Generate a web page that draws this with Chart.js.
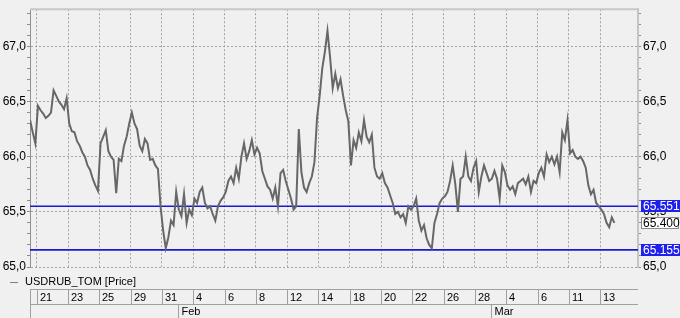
<!DOCTYPE html>
<html>
<head>
<meta charset="utf-8">
<title>USDRUB_TOM</title>
<script src="https://cdn.jsdelivr.net/npm/chart.js@4.4.1/dist/chart.umd.min.js"></script>
<style>
    html, body { margin: 0; padding: 0; background: #f0f0f0; }
    #wrap { width: 680px; height: 318px; }
</style>
</head>
<body>
<div id="wrap"><canvas id="grafico" width="680" height="318"></canvas></div>
<script>
// Eixo X em dias de pregao (0 = 21 jan)
const X_MIN = -0.428;
const X_MAX = 38.42;
const dayTickPos = [0, 2, 4, 6, 8, 10, 12, 14, 16, 18, 20, 22, 24, 26, 28, 30, 32, 34, 36];
const dayLabels = ['21', '23', '25', '29', '31', '4', '6', '8', '12', '14', '18', '20', '22', '26', '28', '4', '6', '11', '13'];
const monthTickPos = [9, 29];
const monthLabels = ['Feb', 'Mar'];

// Eixo Y
const Y_MIN = 65.0;
const Y_MAX = 67.336;
const yMajor = [65.0, 65.5, 66.0, 66.5, 67.0];
const yLabels = ['65,0', '65,5', '66,0', '66,5', '67,0'];

// Niveis horizontais
const levelHigh = 65.551;
const levelLow = 65.155;

// Serie de precos, 6 leituras por dia
const seriesName = 'USDRUB_TOM [Price]';
const seriesStart = -0.42;
const seriesStep = 1 / 6;
const prices = [
    66.33, 66.22, 66.12,                          // 18 jan
    66.46, 66.42, 66.39, 66.35, 66.37, 66.40,     // 21
    66.60, 66.55, 66.50, 66.47, 66.43, 66.53,     // 22
    66.30, 66.23, 66.22, 66.14, 66.10, 66.04,     // 23
    66.00, 65.92, 65.88, 65.80, 65.74, 65.69,     // 24
    66.12, 66.18, 66.24, 66.05, 66.00, 65.97,     // 25
    65.67, 65.98, 65.96, 66.10, 66.18, 66.30,     // 28
    66.40, 66.30, 66.25, 66.10, 66.05, 66.16,     // 29
    66.12, 65.97, 65.98, 65.92, 65.89, 65.55,     // 30
    65.33, 65.17, 65.27, 65.42, 65.38, 65.68,     // 31
    65.52, 65.46, 65.66, 65.40, 65.52, 65.47,     // 1 fev
    65.62, 65.58, 65.68, 65.72, 65.58, 65.53,     // 4
    65.55, 65.48, 65.42, 65.55, 65.60, 65.63,     // 5
    65.68, 65.78, 65.82, 65.76, 65.90, 65.80,     // 6
    66.00, 66.12, 65.98, 66.05, 66.15, 66.02,     // 7
    66.08, 66.03, 65.87, 65.80, 65.73, 65.70,     // 8
    65.62, 65.72, 65.55, 65.85, 65.88, 65.78,     // 11
    65.70, 65.62, 65.52, 65.55, 66.25, 65.86,     // 12
    65.72, 65.68, 65.76, 65.82, 65.95, 66.35,     // 13
    66.55, 66.80, 66.95, 67.14, 66.90, 66.62,     // 14
    66.75, 66.62, 66.70, 66.55, 66.42, 66.32,     // 15
    65.92, 66.15, 66.08, 66.22, 66.14, 66.33,     // 18
    66.18, 66.13, 66.20, 65.90, 65.82, 65.80,     // 19
    65.85, 65.76, 65.72, 65.65, 65.58, 65.48,     // 20
    65.50, 65.45, 65.48, 65.40, 65.55, 65.52,     // 21
    65.55, 65.62, 65.42, 65.33, 65.38, 65.26,     // 22
    65.20, 65.17, 65.40, 65.48, 65.58, 65.62,     // 25
    65.64, 65.68, 65.78, 65.92, 65.75, 65.50,     // 26
    65.80, 65.82, 66.00, 65.82, 65.78, 65.90,     // 27
    65.96, 65.68, 65.82, 65.92, 65.85, 65.78,     // 28
    65.80, 65.87, 65.80, 65.62, 65.92, 65.86,     // 1 mar
    65.74, 65.70, 65.73, 65.66, 65.76, 65.78,     // 4
    65.80, 65.75, 65.82, 65.68, 65.78, 65.76,     // 5
    65.85, 65.90, 65.82, 66.02, 65.95, 66.00,     // 6
    65.93, 66.00, 65.86, 66.22, 66.15, 66.33,     // 7
    66.03, 66.06, 66.00, 65.98, 66.00, 65.96,     // 11
    65.90, 65.74, 65.66, 65.70, 65.58, 65.55,     // 12
    65.52, 65.48, 65.40, 65.36, 65.45, 65.40      // 13
];

const FONT = '"Liberation Sans", Arial, sans-serif';
const BLUE_LINE = '#1a1ad2';
const BLUE_BOX = '#2020ee';

function majorIndex(v) {
    return yMajor.findIndex(m => Math.abs(m - v) < 1e-6);
}

// Ticks do eixo Y a cada 0,1
const yTickPos = [];
for (let v = 650; v <= 673; v++) yTickPos.push(v / 10);

const yAxisBase = {
    type: 'linear',
    min: Y_MIN,
    max: Y_MAX,
    afterBuildTicks: function(scale) {
        scale.ticks = yTickPos.map(v => ({ value: v }));
    },
    ticks: {
        autoSkip: false,
        color: '#000',
        font: { family: FONT, size: 12 },
        callback: function(value) {
            const i = majorIndex(value);
            return i >= 0 ? yLabels[i] : '';
        }
    }
};

// Linhas de apoio: eixo de datas, legenda e etiquetas de preco
const extrasPlugin = {
    id: 'extras',
    afterDraw: function(chart) {
        const ctx = chart.ctx;
        const area = chart.chartArea;
        const xs = chart.scales.x;
        const ys = chart.scales.y;

        function line(x1, y1, x2, y2) {
            ctx.beginPath();
            ctx.moveTo(x1, y1);
            ctx.lineTo(x2, y2);
            ctx.stroke();
        }

        ctx.save();
        // borda superior
        ctx.strokeStyle = '#c8c8c8';
        ctx.lineWidth = 2;
        line(area.left, area.top, area.right + 1, area.top);

        // legenda
        const legY = area.bottom + 14.5;
        ctx.strokeStyle = '#808080';
        ctx.lineWidth = 1;
        line(10, Math.round(legY) + 0.5, 18, Math.round(legY) + 0.5);
        ctx.fillStyle = '#000';
        ctx.font = '11px ' + FONT;
        ctx.textBaseline = 'middle';
        ctx.textAlign = 'left';
        ctx.fillText(chart.data.datasets[0].label, 25, legY);

        // eixo de datas
        const rowTop = area.bottom + 22.5;
        const rowMid = rowTop + 15;
        const rowBot = chart.height;
        ctx.strokeStyle = '#a0a0a0';
        line(area.left, rowTop, area.right, rowTop);
        line(area.left, rowMid, area.right, rowMid);
        line(area.left + 0.5, rowTop, area.left + 0.5, rowBot);
        dayTickPos.forEach(function(d, i) {
            const px = Math.round(xs.getPixelForValue(d)) + 0.5;
            line(px, rowTop, px, rowMid);
            ctx.fillText(dayLabels[i], px + 2.5, rowTop + 8);
        });
        monthTickPos.forEach(function(d, i) {
            const px = Math.round(xs.getPixelForValue(d)) + 0.5;
            line(px, rowMid, px, rowBot);
            ctx.fillText(monthLabels[i], px + 3, rowMid + 7.5);
        });

        // etiquetas de preco no eixo direito
        ctx.font = '12px ' + FONT;
        const bx = area.right + 3;
        [levelHigh, levelLow].forEach(function(v) {
            const py = ys.getPixelForValue(v);
            ctx.fillStyle = BLUE_BOX;
            ctx.fillRect(bx, Math.round(py) - 6, chart.width - bx, 12);
            ctx.fillStyle = '#fff';
            ctx.fillText(v.toFixed(3), bx + 2, py + 0.5);
        });
        const last = prices[prices.length - 1];
        const ly = ys.getPixelForValue(last);
        ctx.fillStyle = '#fff';
        ctx.fillRect(bx, Math.round(ly) - 6, chart.width - bx - 1, 12);
        ctx.strokeStyle = '#8a8a8a';
        ctx.strokeRect(bx + 0.5, Math.round(ly) - 5.5, chart.width - bx - 2, 11);
        ctx.fillStyle = '#000';
        ctx.fillText(last.toFixed(3), bx + 2, ly + 0.5);
        ctx.restore();
    }
};

const ctx = document.getElementById('grafico').getContext('2d');
new Chart(ctx, {
    type: 'line',
    data: {
        datasets: [{
            label: seriesName,
            data: prices.map((p, i) => ({ x: seriesStart + i * seriesStep, y: p })),
            borderColor: '#676767',
            borderWidth: 2,
            pointRadius: 0,
            tension: 0
        }, {
            label: 'nivel alto',
            data: [{ x: X_MIN, y: levelHigh }, { x: X_MAX, y: levelHigh }],
            borderColor: BLUE_LINE,
            borderWidth: 1.6,
            pointRadius: 0
        }, {
            label: 'nivel baixo',
            data: [{ x: X_MIN, y: levelLow }, { x: X_MAX, y: levelLow }],
            borderColor: BLUE_LINE,
            borderWidth: 1.6,
            pointRadius: 0
        }]
    },
    options: {
        responsive: false,
        animation: false,
        devicePixelRatio: 1,
        layout: { padding: { top: 3, bottom: 51, left: 0, right: 0 } },
        plugins: {
            legend: { display: false },
            tooltip: { enabled: false }
        },
        scales: {
            x: {
                type: 'linear',
                min: X_MIN,
                max: X_MAX,
                afterBuildTicks: function(scale) {
                    scale.ticks = dayTickPos.map(v => ({ value: v }));
                },
                afterFit: function(scale) { scale.height = 0; },
                ticks: { display: false },
                grid: { color: '#a4a4a4', drawTicks: false },
                border: { display: false, dash: [2, 2] }
            },
            y: Object.assign({}, yAxisBase, {
                position: 'left',
                afterFit: function(scale) { scale.width = 30; },
                ticks: Object.assign({}, yAxisBase.ticks, { padding: 1 }),
                grid: {
                    color: c => (c.tick && majorIndex(c.tick.value) >= 0) ? '#a4a4a4' : 'rgba(0,0,0,0)',
                    tickLength: 3,
                    tickColor: '#8c8c8c'
                },
                border: { color: '#909090', width: 1, dash: [2, 2] }
            }),
            y2: Object.assign({}, yAxisBase, {
                position: 'right',
                afterFit: function(scale) { scale.width = 42; },
                ticks: Object.assign({}, yAxisBase.ticks, { padding: 2 }),
                grid: {
                    drawOnChartArea: false,
                    tickLength: 3,
                    tickColor: '#8c8c8c'
                },
                border: { color: '#c4c4c4', width: 2 }
            })
        }
    },
    plugins: [extrasPlugin]
});
</script>
</body>
</html>
